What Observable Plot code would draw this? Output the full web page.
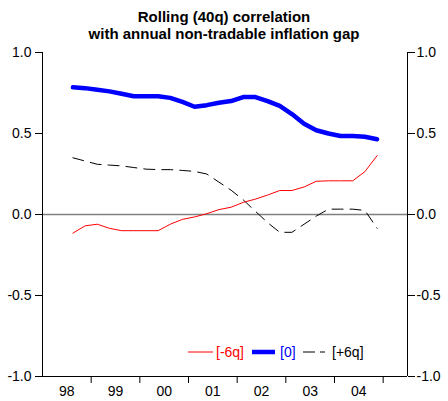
<!DOCTYPE html>
<html><head><meta charset="utf-8">
<script src="https://cdn.jsdelivr.net/npm/d3@7"></script>
<script src="https://cdn.jsdelivr.net/npm/@observablehq/plot@0.6"></script>
<style>
body{margin:0;background:#fff;font-family:"Liberation Sans",Arial,sans-serif;}
#wrap{position:relative;width:448px;height:401px;overflow:hidden;}
#title{box-sizing:border-box;height:44px;padding-top:8px;text-align:center;font-weight:bold;font-size:15px;line-height:17px;color:#000;}
#legend{position:absolute;left:0;top:0;width:448px;height:401px;pointer-events:none;}
</style></head>
<body>
<div id="wrap">
<div id="title">Rolling (40q) correlation<br>with annual non-tradable inflation gap</div>
<div id="chart"></div>
<svg id="legend" width="448" height="401"></svg>
</div>
<script>
// Quarters of the series (1998Q3 .. 2004Q4)
const quarters = ["1998Q3","1998Q4","1999Q1","1999Q2","1999Q3","1999Q4","2000Q1","2000Q2","2000Q3","2000Q4","2001Q1","2001Q2","2001Q3","2001Q4","2002Q1","2002Q2","2002Q3","2002Q4","2003Q1","2003Q2","2003Q3","2003Q4","2004Q1","2004Q2","2004Q3","2004Q4"];
// [-6q]
const lagMinus6 = [-0.115,-0.07,-0.06,-0.085,-0.10,-0.10,-0.10,-0.10,-0.06,-0.03,-0.015,0.005,0.03,0.045,0.075,0.095,0.12,0.148,0.148,0.17,0.205,0.208,0.208,0.208,0.265,0.363];
// [0]
const lag0 = [0.785,0.78,0.77,0.76,0.745,0.73,0.73,0.73,0.72,0.695,0.665,0.675,0.69,0.70,0.725,0.725,0.70,0.67,0.62,0.56,0.52,0.50,0.485,0.485,0.48,0.465];
// [+6q]
const lagPlus6 = [0.35,0.33,0.31,0.305,0.30,0.29,0.28,0.277,0.277,0.272,0.266,0.25,0.20,0.15,0.09,0.02,-0.05,-0.11,-0.11,-0.06,-0.01,0.033,0.033,0.033,0.025,-0.085];

const yearLabels = ["98","99","00","01","02","03","04"];
const yTicks = [-1,-0.5,0,0.5,1];
const seriesNames = ["[-6q]","[0]","[+6q]"];

const startYear = 1998;
const qIndex = q => (+q.slice(0,4) - startYear) * 4 + (+q.slice(5) - 1) + 0.5;
const mk = vals => quarters.map((q,i) => ({x: qIndex(q), y: vals[i]}));
const yearBounds = yearLabels.map((_,i) => (i+1)*4);
const yearMids = yearLabels.map((_,i) => i*4 + 2);

const chart = Plot.plot({
  width: 448, height: 357,
  marginLeft: 42, marginRight: 41, marginTop: 8, marginBottom: 25,
  x: {domain: [0, 30], axis: null},
  y: {domain: [-1, 1], axis: null},
  style: {fontFamily: "Liberation Sans, Arial, sans-serif", fontSize: "14px", color: "#000", background: "#fff"},
  marks: [
    Plot.ruleY([0], {stroke: "#808080", strokeWidth: 1.5}),
    Plot.ruleX([0, 30], {stroke: "#000", strokeWidth: 1}),
    Plot.ruleY([-1], {stroke: "#000", strokeWidth: 1}),
    Plot.axisY({anchor: "left", ticks: yTicks, tickSize: 7, tickPadding: 4, tickFormat: d => d.toFixed(1), label: null, stroke: "#000", fontSize: 14}),
    Plot.axisY({anchor: "right", ticks: yTicks, tickSize: 7, tickPadding: 2, tickFormat: d => d.toFixed(1), label: null, stroke: "#000", fontSize: 14}),
    Plot.axisX({anchor: "bottom", ticks: yearBounds, tickSize: 7, tickFormat: () => "", label: null, stroke: "#000"}),
    Plot.axisX({anchor: "bottom", ticks: yearMids, tickSize: 0, tickPadding: 10, tickFormat: d => yearLabels[(d-2)/4], label: null, fontSize: 14}),
    Plot.line(mk(lagPlus6), {x: "x", y: "y", stroke: "#000", strokeWidth: 1, strokeDasharray: "11,7"}),
    Plot.line(mk(lagMinus6), {x: "x", y: "y", stroke: "#ff0000", strokeWidth: 1}),
    Plot.line(mk(lag0), {x: "x", y: "y", stroke: "#0000ff", strokeWidth: 4.5})
  ]
});
document.getElementById("chart").appendChild(chart);

// legend
const lg = d3.select("#legend");
const items = [
  {name: seriesNames[0], color: "#ff0000", w: 1, dash: null, x1: 188, x2: 213, tx: 216},
  {name: seriesNames[1], color: "#0000ff", w: 4.5, dash: null, x1: 252, x2: 275, tx: 280},
  {name: seriesNames[2], color: "#000", w: 1, dash: "12,5", x1: 303, x2: 325, tx: 332}
];
const ly = 352;
items.forEach(it => {
  const l = lg.append("line").attr("x1", it.x1).attr("x2", it.x2).attr("y1", ly).attr("y2", ly)
    .attr("stroke", it.color).attr("stroke-width", it.w);
  if (it.dash) l.attr("stroke-dasharray", it.dash);
  lg.append("text").attr("x", it.tx).attr("y", ly).attr("dy", "0.35em")
    .attr("font-family", "Liberation Sans, Arial, sans-serif").attr("font-size", 14)
    .attr("fill", it.color).text(it.name);
});
</script>
</body></html>
